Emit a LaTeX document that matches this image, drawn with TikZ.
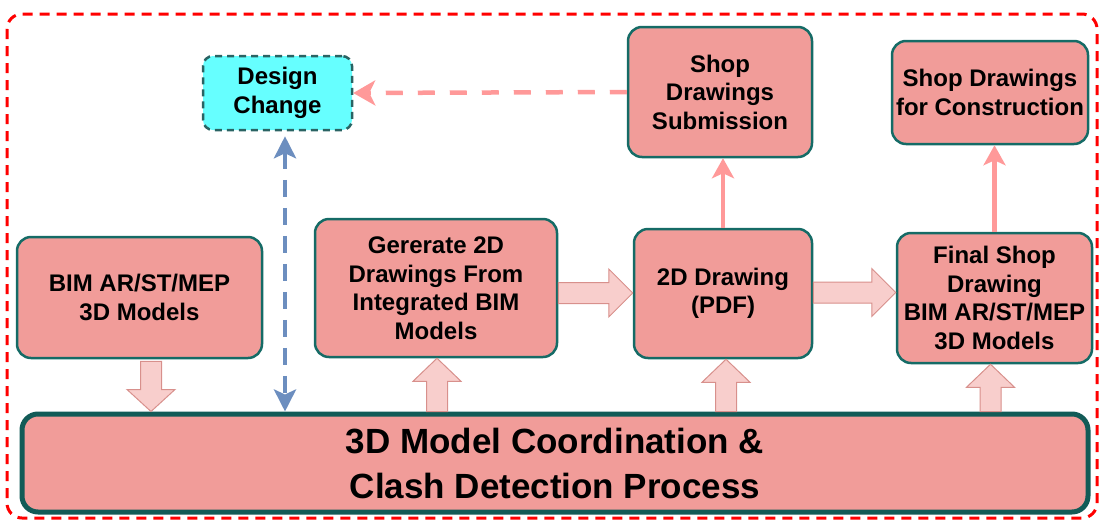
\documentclass[tikz,border=0pt]{standalone}
\usepackage{fontspec}
\setmainfont{Liberation Sans}
\usetikzlibrary{calc,arrows.meta}
\definecolor{boxfill}{HTML}{F19C99}
\definecolor{boxline}{HTML}{156B66}
\definecolor{cyanfill}{HTML}{66FFFF}
\definecolor{cyanline}{HTML}{2A6363}
\definecolor{arrfill}{HTML}{F8CECC}
\definecolor{arrline}{HTML}{D8908C}
\definecolor{salmon}{HTML}{FF9999}
\definecolor{bluel}{HTML}{6C8EBF}
\newcommand{\bsw}{10.5pt}
\newcommand{\bhw}{24pt}
\newcommand{\barrow}[3]{% #1 start, #2 end, #3 head length
  \coordinate (hh) at ($(#2)!#3!(#1)$);
  \draw[blockarr] ($(#1)!\bsw!90:(#2)$) -- ($(hh)!\bsw!90:(#2)$) -- ($(hh)!\bhw!90:(#2)$)
    -- (#2) -- ($(hh)!\bhw!-90:(#2)$) -- ($(hh)!\bsw!-90:(#2)$) -- ($(#1)!\bsw!-90:(#2)$) -- cycle;
}
\tikzset{
  box/.style={draw=boxline, line width=2.5pt, fill=boxfill, rounded corners=14pt,
    align=center, inner sep=0pt, font=\bfseries\fontsize{24}{28.5}\selectfont},
  dcbox/.style={box, draw=cyanline, fill=cyanfill, line width=2.5pt, dash pattern=on 7pt off 5pt, rounded corners=10pt},
  mainbox/.style={box, line width=5pt, draw=boxline!85!black, rounded corners=16pt, font=\bfseries\fontsize{35}{45}\selectfont},
  blockarr/.style={draw=arrline, line width=1pt, fill=arrfill, line join=miter},
  salmonarr/.style={draw=salmon, line width=4.5pt, -{Stealth[length=20pt,width=22pt,inset=5pt]}},
  dashsalmon/.style={draw=salmon, line width=4.5pt, dash pattern=on 17pt off 15pt, -{Stealth[length=22pt,width=25pt,inset=6pt]}},
  bluearr/.style={draw=bluel, line width=4.5pt, dash pattern=on 17pt off 11pt, {Stealth[length=22pt,width=22pt,inset=5pt]}-{Stealth[length=22pt,width=22pt,inset=5pt]}},
  frame/.style={draw=red, line width=3pt, dash pattern=on 10pt off 7pt, rounded corners=15pt}
}
\begin{document}
\begin{tikzpicture}[x=1pt,y=-1pt]
\useasboundingbox (0,0) rectangle (1101,520);
\draw[frame] (7,14) rectangle (1097,518);

\node[dcbox, minimum width=149pt, minimum height=74pt] (dc) at (277.5,93) {Design\\Change};
\node[box, minimum width=184pt, minimum height=130pt] (sub) at (720,92) {Shop\\Drawings\\Submission};
\node[box, minimum width=196pt, minimum height=103pt] (cons) at (990,92.5) {Shop Drawings\\for Construction};
\node[box, minimum width=245pt, minimum height=121pt] (bim) at (139.5,297.5) {BIM AR/ST/MEP\\3D Models};
\node[box, minimum width=242pt, minimum height=138pt] (gen) at (436,288) {Gererate 2D\\Drawings From\\Integrated BIM\\Models};
\node[box, minimum width=178pt, minimum height=129pt] (pdf) at (723,293.5) {2D Drawing\\(PDF)};
\node[box, minimum width=195pt, minimum height=130pt] (fin) at (994.5,298) {Final Shop\\Drawing\\BIM AR/ST/MEP\\3D Models};
\node[mainbox, minimum width=1066pt, minimum height=98pt] (main) at (555,463) {3D Model Coordination \&\\Clash Detection Process};

% block arrows
\coordinate (a1s) at ($(bim.south)+(11.5,2)$);
\coordinate (a1e) at (a1s |- main.north);
\barrow{a1s}{a1e}{22pt}
\coordinate (a2e) at ($(gen.south)+(1,0)$);
\coordinate (a2s) at (a2e |- main.north);
\barrow{a2s}{a2e}{23pt}
\coordinate (a3e) at ($(pdf.south)+(3,0)$);
\coordinate (a3s) at (a3e |- main.north);
\barrow{a3s}{a3e}{23pt}
\coordinate (a4e) at ($(fin.south)+(-4,0)$);
\coordinate (a4s) at (a4e |- main.north);
\barrow{a4s}{a4e}{23pt}
\coordinate (r1s) at ($(gen.east)+(0,5)$);
\coordinate (r1e) at (pdf.west |- r1s);
\barrow{r1s}{r1e}{24pt}
\coordinate (r2s) at ($(pdf.east)+(0,-1)$);
\coordinate (r2e) at (fin.west |- r2s);
\barrow{r2s}{r2e}{24pt}

% line arrows
\draw[salmonarr] (pdf.north) -- (pdf.north |- sub.south);
\draw[salmonarr] (fin.north) -- (fin.north |- cons.south);
\draw[dashsalmon] (sub.west) -- (dc.east);
\coordinate (bt) at ($(dc.south)+(7.5,5)$);
\coordinate (bb) at (bt |- main.north);
\draw[bluearr] (bt) -- (bb);
\end{tikzpicture}
\end{document}
